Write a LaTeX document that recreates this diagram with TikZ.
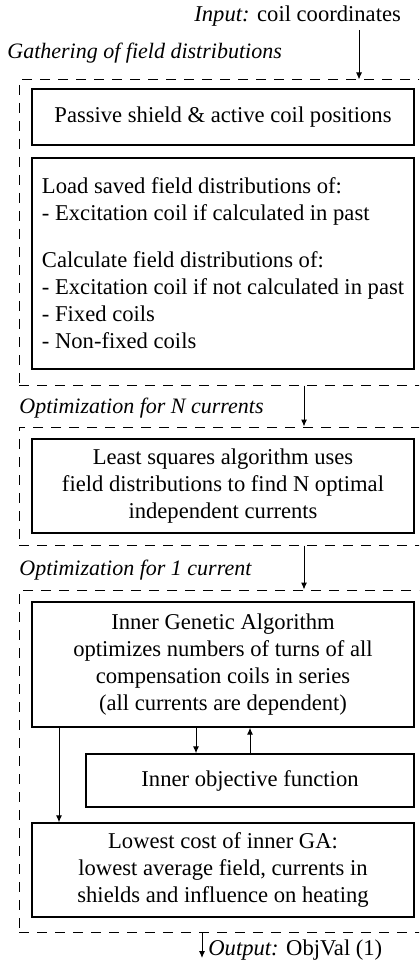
\documentclass[tikz,border=0pt]{standalone}
\usepackage{fontspec}
\setmainfont{Liberation Serif}
\usetikzlibrary{arrows.meta,positioning}
\tikzset{box/.style={draw,line width=0.7pt,minimum width=191pt,align=center,inner sep=0pt},
  group/.style={draw,dash pattern=on 5pt off 4pt,line width=0.5pt,minimum width=215pt},
  flow/.style={-{Latex[length=3.5pt,width=3pt]},line width=0.5pt},
  title/.style={font=\fontsize{11}{13}\selectfont\itshape,anchor=west,inner sep=0pt}}

\begin{document}
\begin{tikzpicture}[x=0.5pt,y=-0.5pt,font=\fontsize{11.3}{13.5}\selectfont]
\useasboundingbox (0,0) rectangle (419,973);
\clip (0,0) rectangle (419,973);
\node[anchor=west,inner sep=0pt] (inp) at (194,16) {\textit{Input:} coil coordinates};
\node[title] (t1) at (7,53) {Gathering of field distributions};
\node[group,minimum height=152.5pt] (g1) at (234,232.5) {};
\node[box,minimum height=28pt] (b1) at (223,117) {Passive shield \& active coil positions};
\node[box,minimum height=105.5pt,align=left] (b2) at (223,263.5) {Load saved field distributions of:\\
  - Excitation coil if calculated in past\\[10pt]
  Calculate field distributions of:\\
  - Excitation coil if not calculated in past\\
  - Fixed coils\\
  - Non-fixed coils};
\node[title] (t2) at (19,408) {Optimization for N currents};
\node[group,minimum height=59pt] (g2) at (234,486) {};
\node[box,minimum height=47pt] (b3) at (223,486) {Least squares algorithm uses\\field distributions to find N optimal\\independent currents};
\node[title] (t3) at (19,570) {Optimization for 1 current};
\node[group,minimum height=171pt] (g3) at (234,761) {};
\node[box,minimum height=62.5pt] (b4) at (223,664.5) {Inner Genetic Algorithm\\optimizes numbers of turns of all\\compensation coils in series\\(all currents are dependent)};
\node[box,minimum width=164pt,minimum height=26.5pt] (obj) at (250,780.5) {Inner objective function};
\node[box,minimum height=47pt] (b5) at (223,870) {Lowest cost of inner GA:\\lowest average field, currents in\\shields and influence on heating};
\node[anchor=west,inner sep=0pt] (out) at (208,950) {\textit{Output:} ObjVal (1)};
\coordinate (cin) at (359,30);
\coordinate (cmid) at (304,0);
\coordinate (cdown) at (196,0);
\coordinate (cup) at (250,0);
\coordinate (cres) at (59,0);
\coordinate (cout) at (202,958);
\draw[flow] (cin) -- (cin |- g1.north);
\draw[flow] (g1.south -| cmid) -- (g2.north -| cmid);
\draw[flow] (g2.south -| cmid) -- (g3.north -| cmid);
\draw[flow] (b4.south -| cdown) -- (obj.north -| cdown);
\draw[flow] (obj.north -| cup) -- (b4.south -| cup);
\draw[flow] (b4.south -| cres) -- (b5.north -| cres);
\draw[flow] (g3.south -| cout) -- (cout);
\end{tikzpicture}
\end{document}
